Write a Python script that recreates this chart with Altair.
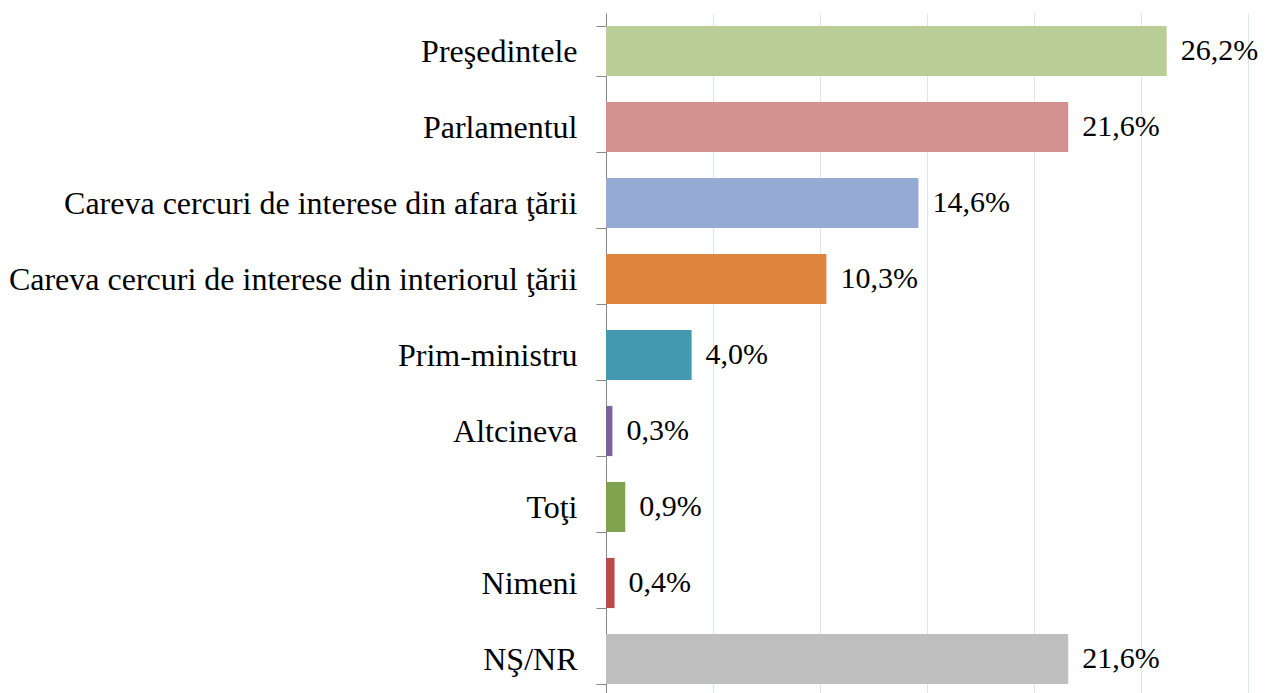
import altair as alt
import pandas as pd

categories = [
    "Preşedintele",
    "Parlamentul",
    "Careva cercuri de interese din afara ţării",
    "Careva cercuri de interese din interiorul ţării",
    "Prim-ministru",
    "Altcineva",
    "Toţi",
    "Nimeni",
    "NŞ/NR",
]
values = [26.2, 21.6, 14.6, 10.3, 4.0, 0.3, 0.9, 0.4, 21.6]
labels = ["26,2%", "21,6%", "14,6%", "10,3%", "4,0%", "0,3%", "0,9%", "0,4%", "21,6%"]
colors = ["#b9ce96", "#d39190", "#95abd3", "#dd843f", "#4299b0",
          "#7e62a0", "#7ea24d", "#b94a48", "#bfbfbf"]

df = pd.DataFrame({"cat": categories, "val": values, "lab": labels})

FONT = "Times New Roman"

y_enc = alt.Y(
    "cat:N",
    sort=categories,
    title=None,
    scale=alt.Scale(paddingInner=0.34, paddingOuter=0.17),
    axis=alt.Axis(
        labelFont=FONT,
        labelFontSize=32,
        labelColor="#000000",
        labelPadding=19,
        labelLimit=700,
        tickBand="extent",
        tickOffset=13,
        tickSize=10,
        tickColor="#868686",
        domainColor="#868686",
        grid=False,
    ),
)

x_enc = alt.X(
    "val:Q",
    title=None,
    scale=alt.Scale(domain=[0, 30], nice=False, zero=True),
    axis=alt.Axis(
        values=[0, 5, 10, 15, 20, 25, 30],
        labels=False,
        ticks=False,
        domain=False,
        grid=True,
        gridColor="#dbe5f1",
        gridWidth=1,
    ),
)

bars = alt.Chart(df).mark_bar().encode(
    y=y_enc,
    x=x_enc,
    color=alt.Color("cat:N", scale=alt.Scale(domain=categories, range=colors), legend=None),
)

text = alt.Chart(df).mark_text(
    align="left", baseline="middle", dx=14, font=FONT, fontSize=30, color="#000000"
).encode(
    y=alt.Y("cat:N", sort=categories),
    x=alt.X("val:Q"),
    text="lab:N",
)

chart = (
    alt.layer(bars, text)
    .properties(
        width=642,
        height=684,
        padding={"left": 598, "top": 5, "right": 11, "bottom": 0},
        autosize=alt.AutoSizeParams(type="none"),
    )
    .configure_view(stroke=None)
)

chart.save("out.html", embed_options={"renderer": "svg", "actions": False})
